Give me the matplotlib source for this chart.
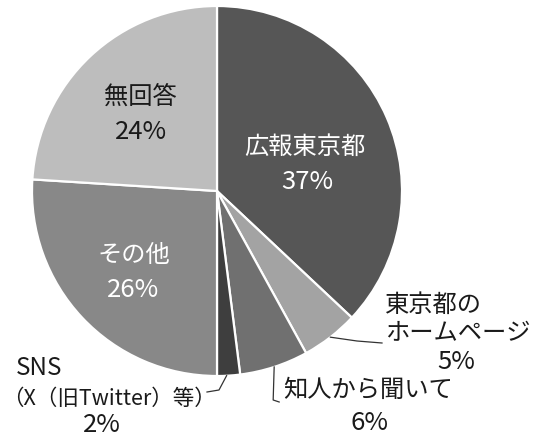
import numpy as np
import matplotlib
matplotlib.use("Agg")
import matplotlib.pyplot as plt

plt.rcParams['font.family'] = ['Noto Sans CJK JP', 'DejaVu Sans']

categories = ["広報東京都", "東京都の\nホームページ", "知人から聞いて", "SNS\n（X（旧Twitter）等）", "その他", "無回答"]
values = [37, 5, 6, 2, 26, 24]
pct_labels = ["37%", "5%", "6%", "2%", "26%", "24%"]
colors = ["#565656", "#a3a3a3", "#707070", "#3e3e3e", "#888888", "#bdbdbd"]

W, H = 550, 437
fig = plt.figure(figsize=(W / 100, H / 100), dpi=100)
ax = fig.add_axes([0, 0, 1, 1])
ax.set_xlim(0, W)
ax.set_ylim(0, H)
ax.set_aspect('equal')
ax.axis('off')

def Y(y):
    return H - y

cx, cy, R = 217, Y(191), 185
wedges, _ = ax.pie(values, colors=colors, startangle=90, counterclock=False,
                   center=(cx, cy), radius=R,
                   wedgeprops=dict(edgecolor='white', linewidth=1.6))
ax.set_xlim(0, W)
ax.set_ylim(0, H)

fs = 17.5
fp = 18.5
txt = '#1a1a1a'

# inside labels
ax.text(305, Y(147), categories[0], ha='center', va='center', fontsize=fs, color='white')
ax.text(307, Y(182), pct_labels[0], ha='center', va='center', fontsize=fp, color='white')
ax.text(140, Y(97), categories[5], ha='center', va='center', fontsize=fs, color=txt)
ax.text(141, Y(132), pct_labels[5], ha='center', va='center', fontsize=fp, color=txt)
ax.text(134, Y(255), categories[4], ha='center', va='center', fontsize=fs, color='white')
ax.text(133, Y(290), pct_labels[4], ha='center', va='center', fontsize=fp, color='white')

# outside labels
l1, l2 = categories[1].split('\n')
ax.text(385, Y(305), l1, ha='left', va='center', fontsize=fs, color=txt)
ax.text(385, Y(333), l2, ha='left', va='center', fontsize=fs, color=txt)
ax.text(456, Y(362), pct_labels[1], ha='center', va='center', fontsize=fp, color=txt)

ax.text(283, Y(390), categories[2], ha='left', va='center', fontsize=fs, color=txt)
ax.text(370, Y(423), pct_labels[2], ha='center', va='center', fontsize=fp, color=txt)

s1, s2 = categories[3].split('\n')
ax.text(16, Y(368), s1, ha='left', va='center', fontsize=fs, color=txt)
ax.text(109, Y(399), s2, ha='center', va='center', fontsize=15.5, color=txt)
ax.text(102, Y(425), pct_labels[3], ha='center', va='center', fontsize=fp, color=txt)

# leader lines from wedge mid-angles
def edge_point(w):
    a = np.deg2rad((w.theta1 + w.theta2) / 2)
    return cx + R * np.cos(a), cy + R * np.sin(a)

lc = '#333333'
x0, y0 = edge_point(wedges[1])
ax.plot([x0, 357, 382], [y0, Y(341), Y(343)], color=lc, lw=0.9)
x0, y0 = edge_point(wedges[2])
ax.plot([x0, x0 - 1, x0 + 5], [y0, Y(400), Y(402)], color=lc, lw=0.9)
x0, y0 = edge_point(wedges[3])
ax.plot([x0 - 2, 219, 207], [y0, Y(390), Y(392)], color=lc, lw=0.9)

fig.savefig('out.png', dpi=100, facecolor='white')
